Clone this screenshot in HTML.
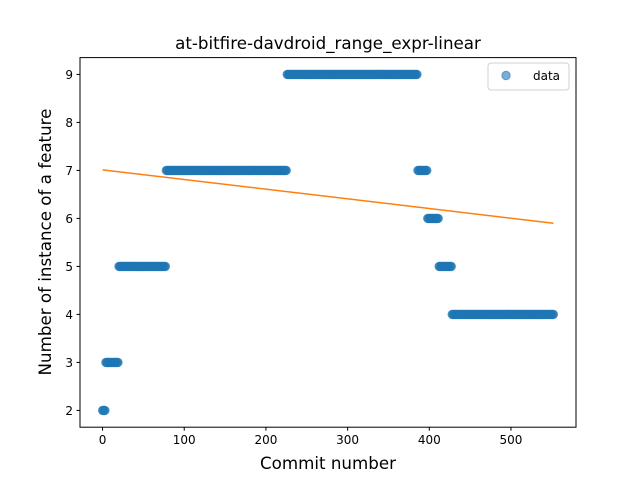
<!DOCTYPE html>
<html><head><meta charset="utf-8"><style>
body{margin:0;background:#fff;}
svg{display:block;font-family:"DejaVu Sans","Liberation Sans",sans-serif;}
</style></head><body>
<svg id="chart" width="640" height="480">
<rect x="0" y="0" width="640" height="480" fill="#fff"/>
<text x="328" y="49" text-anchor="middle" font-size="16.7">at-bitfire-davdroid_range_expr-linear</text>
<g id="plot"></g>
<rect x="80" y="57.6" width="496" height="369.6" fill="none" stroke="#000" stroke-width="1"/>
<text x="328" y="469" text-anchor="middle" font-size="16.7">Commit number</text>
<text transform="translate(51,242) rotate(-90)" text-anchor="middle" font-size="16.7">Number of instance of a feature</text>
<g>
<rect x="488" y="63" width="81" height="27" rx="3" fill="#fff" stroke="#ccc" opacity="0.9"/>
<circle cx="506" cy="75.5" r="4.2" fill="#1f77b4" fill-opacity="0.6" stroke="#1f77b4" stroke-opacity="0.6"/>
<text x="533" y="80" font-size="12">data</text>
</g>
</svg>
<script>
const runValues=[2,3,5,7,9,7,6,5,4];
const runLengths=[4,16,58,148,160,12,14,16,125];
const xTicks=[0,100,200,300,400,500];
const yTicks=[2,3,4,5,6,7,8,9];

const xMin=-27.6,xMax=579.6,yMin=1.65,yMax=9.35;
const L=80,R=576,T=57.6,B=427.2;
const sx=v=>L+(v-xMin)/(xMax-xMin)*(R-L);
const sy=v=>B-(v-yMin)/(yMax-yMin)*(B-T);
const NS="http://www.w3.org/2000/svg";
const plot=document.getElementById('plot');
function mk(tag,attrs){const e=document.createElementNS(NS,tag);for(const k in attrs)e.setAttribute(k,attrs[k]);plot.appendChild(e);return e;}

const xs=[],ys=[];
runValues.forEach((v,i)=>{for(let j=0;j<runLengths[i];j++){xs.push(xs.length);ys.push(v);}});
xs.forEach((x,i)=>{
  const c=mk('circle',{cx:sx(x),cy:sy(ys[i]),r:4.2,fill:'#1f77b4','fill-opacity':0.6,stroke:'#1f77b4','stroke-opacity':0.6,'stroke-width':1});
  
  
});
const n=xs.length,mx=xs.reduce((a,b)=>a+b)/n,my=ys.reduce((a,b)=>a+b)/n;
let sxy=0,sxx=0;xs.forEach((x,i)=>{sxy+=(x-mx)*(ys[i]-my);sxx+=(x-mx)*(x-mx);});
const slope=sxy/sxx,icpt=my-slope*mx,x0=xs[0],x1=xs[n-1];
const ln=mk('line',{x1:sx(x0),y1:sy(icpt+slope*x0),x2:sx(x1),y2:sy(icpt+slope*x1),stroke:'#ff7f0e','stroke-width':1.5});



xTicks.forEach(t=>{
  const x=sx(t);
  const tk=mk('line',{x1:x,y1:B,x2:x,y2:B+3.5,stroke:'#000'});
  
  
  const tx=mk('text',{x:x,y:B+17,'text-anchor':'middle','font-size':12});
  tx.textContent=t;
  
  
});
yTicks.forEach(t=>{
  const y=sy(t);
  const tk=mk('line',{x1:L-3.5,y1:y,x2:L,y2:y,stroke:'#000'});
  
  
  const tx=mk('text',{x:L-7,y:y+4.5,'text-anchor':'end','font-size':12});
  tx.textContent=t;
  
  
});
</script>
</body></html>
